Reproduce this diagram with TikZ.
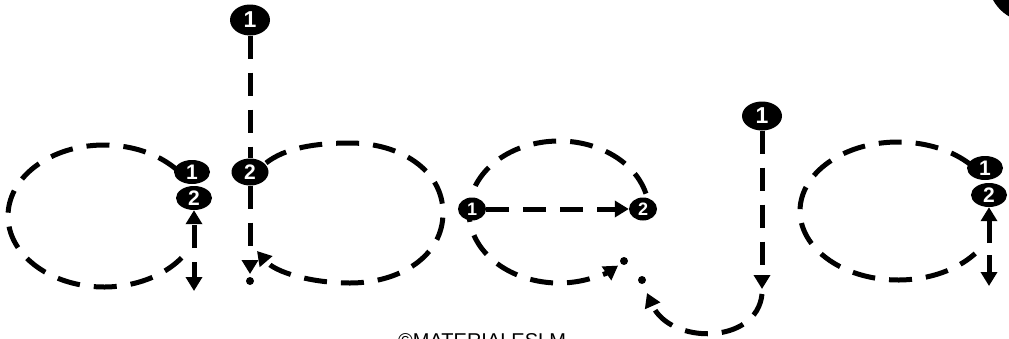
\documentclass[tikz,border=0pt]{standalone}
\usepackage{fontspec}
\newfontfamily\numfont{Liberation Sans}
\usetikzlibrary{shapes.geometric,arrows.meta}
\begin{document}
\begin{tikzpicture}[x=1pt,y=-1pt,
  num/.style={ellipse,fill=black,text=white,inner sep=0pt,font=\numfont\bfseries\fontsize{21}{21}\selectfont,minimum width=36pt,minimum height=24pt},
  big/.style={minimum width=40pt,minimum height=31pt,font=\numfont\bfseries\fontsize{23}{23}\selectfont},
  small/.style={minimum width=28pt,minimum height=23pt,font=\numfont\bfseries\fontsize{18}{18}\selectfont},
  stroke/.style={line width=5pt,dash pattern=on 23pt off 14pt},
  tip/.style={-{Triangle[width=16pt,length=14pt]}},
  dot/.style={circle,fill=black,inner sep=0pt,minimum size=8pt},
]
\useasboundingbox (0,0) rectangle (1009,338);
\clip (0,0) rectangle (1009,338);

% curved strokes (drawn below the numbered nodes)
\draw[stroke] (104,216) ++(40:96pt and 71pt) arc[start angle=40,end angle=324,x radius=96pt,y radius=71pt];
\draw[stroke,tip] (266,163) .. controls (285,148) and (315,143) .. (350,143)
   .. controls (400,143) and (443,170) .. (443,213)
   .. controls (443,256) and (400,283) .. (350,283)
   .. controls (310,283) and (275,272) .. (257,251);
\draw[stroke,tip] (559,212) ++(15:90pt and 71pt) arc[start angle=15,end angle=311,x radius=90pt,y radius=71pt];
\draw[stroke,tip] (762,294) .. controls (757,345) and (670,345) .. (647,293);
\draw[stroke] (898,211) ++(42:98pt and 69pt) arc[start angle=42,end angle=322,x radius=98pt,y radius=69pt];

% numbered nodes
\node[num,big] (b1) at (250,20) {1};
\node[num,minimum width=37pt,minimum height=27pt] (b2) at (250,172) {2};
\node[num] (a1n1) at (192,172) {1};
\node[num] (a1n2) at (194,198) {2};
\node[num,small] (e1) at (472,209) {1};
\node[num,small] (e2) at (643,209) {2};
\node[num,big,minimum height=29pt] (j1) at (762,116) {1};
\node[num] (a2n1) at (985,168) {1};
\node[num] (a2n2) at (989,195) {2};

% dots
\node[dot] (bdot) at (250,281) {};
\node[dot] (edot) at (624,261) {};
\node[dot] (jdot) at (642,280) {};

% free ends
\coordinate (a1up) at (194,248);
\coordinate (a1dn) at (194,262);
\coordinate (a1end) at (194,291);
\coordinate (bend) at (250,274);
\coordinate (jend) at (762,289);
\coordinate (a2up) at (989,243);
\coordinate (a2dn) at (989,255);
\coordinate (a2end) at (989,286);

% straight strokes
\draw[stroke,tip] (a1up) -- (a1n2);
\draw[stroke,tip] (a1dn) -- (a1end);
\draw[stroke] (b1) -- (b2);
\draw[stroke,tip] (b2) -- (bend);
\draw[stroke,tip] (e1) -- (e2);
\draw[stroke,tip] (j1) -- (jend);
\draw[stroke,tip] (a2up) -- (a2n2);
\draw[stroke,tip] (a2dn) -- (a2end);

% corner shape and watermark (cut by the picture's edge, as in the reference)
\fill (1030,-20) circle[radius=42pt];
\node[anchor=base west,inner sep=0pt,font=\numfont\fontsize{20}{20}\selectfont] (wm) at (398,347) {©MATERIALESLM};
\end{tikzpicture}
\end{document}
